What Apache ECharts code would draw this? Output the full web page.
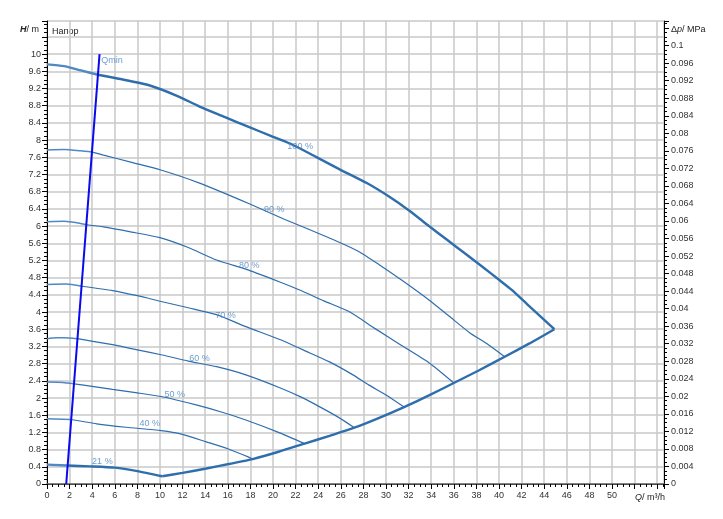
<!DOCTYPE html>
<html><head><meta charset="utf-8">
<script src="https://cdn.jsdelivr.net/npm/echarts@6/dist/echarts.min.js"></script>
<style>html,body{margin:0;padding:0;background:#fff}#c{width:723px;height:519px}</style>
</head><body><div id="c"></div>
<script>
// Pump curves: [Q (m3/h), H (m)]
const h100 = [[0,9.76],[1.5,9.72],[3,9.62],[4.5,9.52],[6.5,9.42],[9.1,9.27],[11.5,9.03],[13.5,8.78],[15.7,8.54],[17.9,8.3],[19.8,8.1],[21.5,7.92],[23.8,7.61],[25.9,7.32],[28.3,7.0],[30.3,6.68],[32.1,6.35],[33.8,6.0],[35.4,5.68],[37,5.36],[38.5,5.06],[40,4.75],[41.1,4.52],[42.5,4.18],[44,3.82],[44.9,3.6]];
const h90 = [[0,7.77],[1.5,7.78],[3,7.75],[4,7.72],[5,7.65],[7.5,7.48],[10,7.31],[13.5,7.0],[17.9,6.52],[21,6.16],[25.2,5.7],[27.5,5.42],[29.4,5.1],[31.5,4.72],[33.8,4.28],[35.6,3.9],[37.4,3.52],[39,3.25],[40.5,2.96]];
const h80 = [[0,6.1],[1.5,6.11],[3,6.06],[3.5,6.03],[5,5.98],[7.5,5.86],[10,5.73],[12.5,5.5],[15,5.21],[17.9,4.97],[20.6,4.7],[22.3,4.52],[24.5,4.26],[26.8,4.0],[29,3.62],[31.2,3.25],[33.8,2.82],[36,2.35]];
const h70 = [[0,4.64],[1.7,4.65],[3.1,4.6],[5.8,4.5],[8,4.38],[10.2,4.24],[12.5,4.1],[15,3.94],[17.6,3.66],[20.6,3.36],[23,3.08],[25,2.84],[27,2.55],[28.5,2.3],[30,2.07],[31.6,1.79]];
const h60 = [[0,3.38],[0.8,3.4],[1.5,3.4],[2.7,3.38],[5.8,3.24],[8,3.12],[10.2,3.0],[12.5,2.86],[15,2.73],[17.6,2.54],[20.6,2.24],[22.5,2.02],[24.1,1.8],[25.8,1.55],[27.2,1.31]];
const h50 = [[0,2.37],[1.4,2.36],[2.4,2.33],[4,2.27],[5.8,2.2],[8,2.12],[10.2,2.03],[13.2,1.84],[15.5,1.67],[17.6,1.49],[20.6,1.19],[22.8,0.94]];
const h40 = [[0,1.52],[2.1,1.5],[4.4,1.4],[7,1.32],[10.1,1.24],[11.9,1.16],[14.1,0.98],[16,0.82],[17.8,0.63],[18.2,0.58]];
const h21 = [[0,0.45],[1.8,0.43],[3.8,0.41],[6,0.38],[8,0.3],[10.2,0.18]];
const systemCurve = [[10.2,0.18],[12,0.26],[14.1,0.36],[16.2,0.47],[18.2,0.58],[20.5,0.75],[22.8,0.94],[25,1.12],[27.2,1.31],[29.4,1.54],[31.6,1.79],[33.8,2.06],[36,2.35],[38.2,2.64],[40.5,2.96],[42.7,3.27],[44.9,3.6]];
const qminLine = [[1.7,0],[4.65,10]];
// Q where each curve crosses Qmin line (left part drawn lighter)
const qminCross = [4.5, 4.0, 3.5, 3.1, 2.7, 2.4, 2.1, 1.8];
const curves = [h100, h90, h80, h70, h60, h50, h40, h21];
const curveNames = ['100 %','90 %','80 %','70 %','60 %','50 %','40 %','21 %'];
const thick = [true,false,false,false,false,false,false,true];
// label anchor positions [Q, H]
const labelPos = [[22.4,7.84],[20.1,6.38],[17.9,5.08],[15.8,3.91],[13.5,2.91],[11.3,2.08],[9.1,1.41],[4.9,0.52]];
const qminLabel = [4.8, 9.85, 'Qmin'];

const X_MAX = 54.6, Y_MAX = 10.77, MPA_PER_M = 1/101.97;
const C_DARK = '#2e6ead', C_LIGHT = '#5088c4', C_LABEL = '#4a84c2';
const FONT = 'Liberation Sans, Arial, sans-serif';

const chart = echarts.init(document.getElementById('c'), null, {renderer:'canvas'});
const series = [];
series.push({type:'line', data: systemCurve, showSymbol:false, smooth:0.2,
  lineStyle:{color:C_DARK, width:2.4}, z:3, silent:true});
curves.forEach((c,i)=>{
  series.push({type:'line', data: c.filter(p=>p[0]>=qminCross[i]), showSymbol:false, smooth:0.2,
    lineStyle:{color:C_DARK, width: thick[i]?2.4:1.2}, z:3, silent:true});
  series.push({type:'line', data: c.filter(p=>p[0]<=qminCross[i]), showSymbol:false, smooth:0.2,
    lineStyle:{color:C_LIGHT, width: thick[i]?2.4:1.5}, z:3, silent:true});
});
series.push({type:'line', data: qminLine, showSymbol:false, lineStyle:{color:'#0a0aee', width:2}, z:4, silent:true});
series.push({type:'scatter', symbolSize:0, z:5, silent:true,
  data: labelPos.map((p,i)=>({value:p, name:curveNames[i]})),
  label:{show:true, position:'inside', formatter:p=>p.name, color:C_LABEL, fontSize:9, fontFamily:FONT}});
series.push({type:'scatter', symbolSize:0, z:5, silent:true,
  data: [{value:[qminLabel[0],qminLabel[1]], name:qminLabel[2]}],
  label:{show:true, position:'right', distance:0, formatter:p=>p.name, color:C_LABEL, fontSize:9, fontFamily:FONT}});

const axisText = {color:'#333', fontSize:9, fontFamily:FONT};
chart.setOption({
  animation:false,
  backgroundColor:'#fff',
  grid:{left:47, right:59, top:21, bottom:35, containLabel:false},
  xAxis:[{
    type:'value', min:0, max:X_MAX, interval:2, position:'bottom',
    axisLine:{show:true, onZero:false, lineStyle:{color:'#000', width:1}},
    axisTick:{show:true, length:5, lineStyle:{color:'#000'}},
    minorTick:{show:true, splitNumber:4, length:3, lineStyle:{color:'#000'}},
    axisLabel:{...axisText, margin:7, formatter:v=> v>50.01 ? '' : String(v), showMaxLabel:true},
    splitLine:{show:true, lineStyle:{color:'#c9c9c9', width:1.5}}
  },{
    type:'value', min:0, max:X_MAX, position:'top',
    axisLine:{show:true, lineStyle:{color:'#666', width:1.5}},
    axisTick:{show:false}, axisLabel:{show:false}, splitLine:{show:false}
  }],
  yAxis:[{
    type:'value', min:0, max:Y_MAX, interval:0.4, position:'left',
    axisLine:{show:true, onZero:false, lineStyle:{color:'#000', width:1}},
    axisTick:{show:true, length:5, lineStyle:{color:'#000'}},
    minorTick:{show:true, splitNumber:4, length:3, lineStyle:{color:'#000'}},
    axisLabel:{...axisText, margin:6, formatter:v=> v>10.01 ? '' : String(+v.toFixed(1))},
    splitLine:{show:true, lineStyle:{color:'#c9c9c9', width:1.5}}
  },{
    type:'value', min:0, max:Y_MAX*MPA_PER_M, interval:0.004, position:'right',
    axisLine:{show:true, onZero:false, lineStyle:{color:'#000', width:1}},
    axisTick:{show:true, length:5, lineStyle:{color:'#000'}},
    minorTick:{show:true, splitNumber:4, length:3, lineStyle:{color:'#000'}},
    axisLabel:{...axisText, margin:7, formatter:v=> v>0.1001 ? '' : String(+v.toFixed(3))},
    splitLine:{show:false}
  }],
  graphic:[
    {type:'text', left:20, top:25, style:{text:'{i|H}/ m', rich:{i:{fontStyle:'italic', fontWeight:'bold', fontSize:9, fontFamily:FONT, fill:'#222'}}, fontSize:9, fontFamily:FONT, fill:'#222'}},
    {type:'text', left:52, top:27, style:{text:'Напор', fontSize:9, fontFamily:FONT, fill:'#222'}},
    {type:'text', left:671, top:25, style:{text:'Δ{i|p}/ MPa', rich:{i:{fontStyle:'italic', fontSize:9, fontFamily:FONT, fill:'#222'}}, fontSize:9, fontFamily:FONT, fill:'#222'}},
    {type:'text', left:635, top:493, style:{text:'{i|Q}/ m³/h', rich:{i:{fontStyle:'italic', fontSize:9, fontFamily:FONT, fill:'#222'}}, fontSize:9, fontFamily:FONT, fill:'#222'}}
  ],
  series: series
});
</script></body></html>
